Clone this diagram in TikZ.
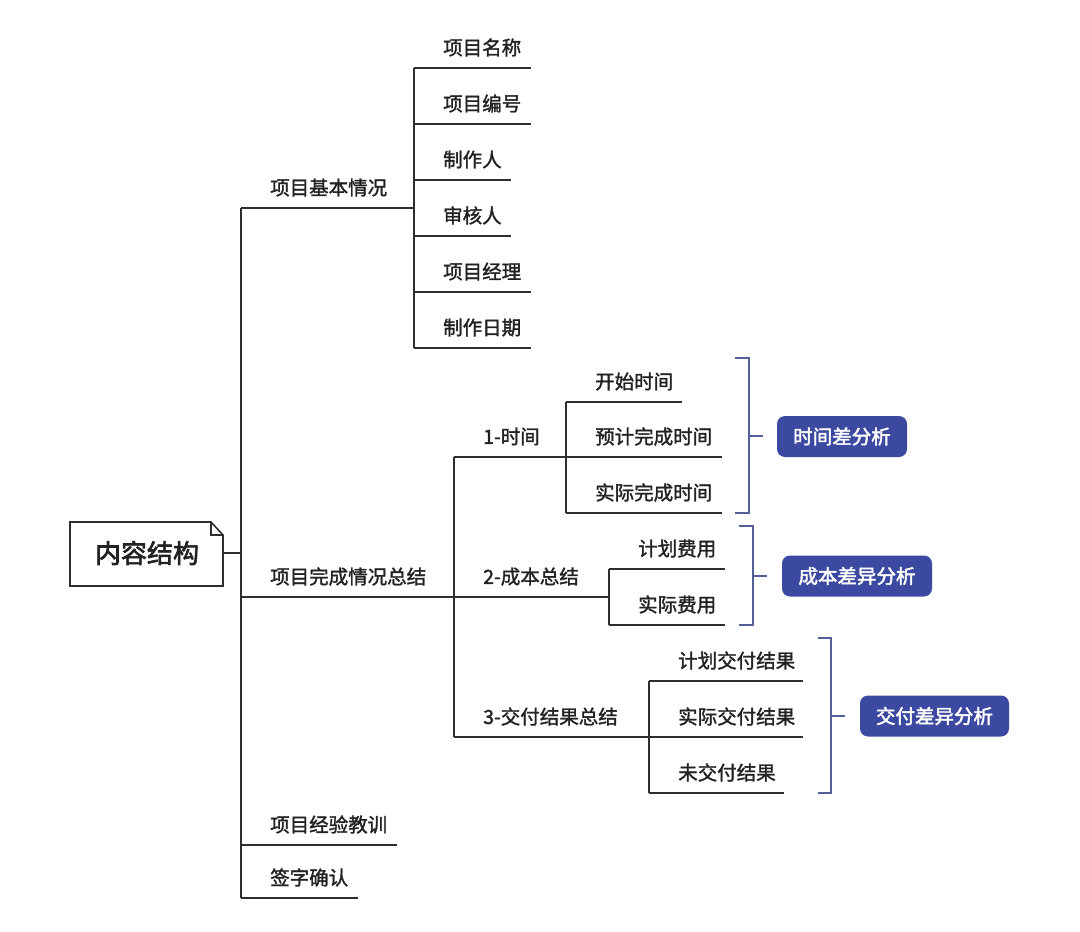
\documentclass[tikz,border=0pt]{standalone}
\usepackage{fontspec}
\setmainfont{Noto Sans CJK SC}
\newfontfamily\medfont{Noto Sans CJK SC}[FakeBold=1.6]
\newfontfamily\rootfont{Noto Sans CJK SC}[FakeBold=2.4]
\newfontfamily\tagfont{Noto Sans CJK SC}[FakeBold=2.2]
\definecolor{linec}{HTML}{2E2E2E}
\definecolor{txtc}{HTML}{222222}
\definecolor{brc}{HTML}{53609C}
\definecolor{boxc}{HTML}{3B4AA0}
\newcommand\ulitem[5]{%
  \node[lbl] (#1) at ({#2+29},{#4-20.5}) {#5};
  \coordinate (#1-l) at (#2,#4);
  \coordinate (#1-r) at (#3,#4);
  \draw[ln] (#1-l) -- (#1-r);}
\begin{document}
\begin{tikzpicture}[x=1pt,y=-1pt,
  ln/.style={draw=linec, line width=1.8pt},
  br/.style={draw=brc, line width=1.8pt},
  lbl/.style={anchor=west, inner sep=0pt, font=\medfont\fontsize{19.5}{20}\selectfont, text=txtc},
  tag/.style={fill=boxc, rounded corners=8pt, text=white, inner sep=0pt,
    minimum height=41pt, font=\tagfont\fontsize{19.5}{20}\selectfont}]
\useasboundingbox[fill=white] (0,0) rectangle (1080,932);
% root
\coordinate (r1) at (70,522); \coordinate (r2) at (211,522);
\coordinate (r3) at (223,535); \coordinate (r4) at (223,586);
\coordinate (r5) at (70,586);
\draw[ln, line width=1.6pt, line join=miter] (r1) -- (r2) -- (r3) -- (r4) -- (r5) -- cycle;
\draw[ln, line width=1.4pt] (r2) -- (211,535) -- (r3);
\node[font=\rootfont\fontsize{26}{26}\selectfont, text=txtc] (root) at (147,553) {内容结构};
\coordinate (rootr) at (223,553);
\coordinate (rootj) at (241,553);
\draw[ln] (rootr) -- (rootj);
% level 1
\ulitem{b1}{241}{414}{208}{项目基本情况}
\ulitem{b2}{241}{454}{597}{项目完成情况总结}
\ulitem{b3}{241}{397}{845}{项目经验教训}
\ulitem{b4}{241}{358}{898}{签字确认}
\draw[ln] (b1-l) -- (b4-l);
% project basics
\ulitem{a1}{414}{531}{68}{项目名称}
\ulitem{a2}{414}{531}{124}{项目编号}
\ulitem{a3}{414}{511}{180}{制作人}
\ulitem{a4}{414}{511}{236}{审核人}
\ulitem{a5}{414}{531}{292}{项目经理}
\ulitem{a6}{414}{531}{348}{制作日期}
\draw[ln] (a1-l) -- (a6-l);
% completion summary
\ulitem{c1}{454}{566}{457}{1-时间}
\ulitem{c2}{454}{609}{597}{2-成本总结}
\ulitem{c3}{454}{649}{737}{3-交付结果总结}
\draw[ln] (c1-l) -- (c3-l);
% time
\ulitem{d1}{566}{682}{402}{开始时间}
\ulitem{d2}{566}{722}{457}{预计完成时间}
\ulitem{d3}{566}{722}{513}{实际完成时间}
\draw[ln] (d1-l) -- (d3-l);
% cost
\ulitem{e1}{609}{725}{569}{计划费用}
\ulitem{e2}{609}{725}{625}{实际费用}
\draw[ln] (e1-l) -- (e2-l);
% delivery
\ulitem{f1}{649}{803}{681}{计划交付结果}
\ulitem{f2}{649}{803}{737}{实际交付结果}
\ulitem{f3}{649}{784}{793}{未交付结果}
\draw[ln] (f1-l) -- (f3-l);
% brackets and tags
\coordinate (tb1) at (735,358); \coordinate (tb2) at (749,358);
\coordinate (tb3) at (749,513); \coordinate (tb4) at (735,513);
\draw[br] (tb1) -- (tb2) -- (tb3) -- (tb4);
\coordinate (tm) at (749,436); \coordinate (tt) at (763,436);
\draw[br] (tm) -- (tt);
\node[tag, minimum width=130pt] (tA) at (842,436.5) {时间差分析};

\coordinate (cb1) at (739,526); \coordinate (cb2) at (753,526);
\coordinate (cb3) at (753,625); \coordinate (cb4) at (739,625);
\draw[br] (cb1) -- (cb2) -- (cb3) -- (cb4);
\coordinate (cm) at (753,576); \coordinate (ct) at (767,576);
\draw[br] (cm) -- (ct);
\node[tag, minimum width=150pt] (cA) at (857,576) {成本差异分析};

\coordinate (db1) at (818,638); \coordinate (db2) at (831,638);
\coordinate (db3) at (831,793); \coordinate (db4) at (818,793);
\draw[br] (db1) -- (db2) -- (db3) -- (db4);
\coordinate (dm) at (831,716); \coordinate (dt) at (845,716);
\draw[br] (dm) -- (dt);
\node[tag, minimum width=149pt] (dA) at (934.5,716) {交付差异分析};
\end{tikzpicture}
\end{document}
